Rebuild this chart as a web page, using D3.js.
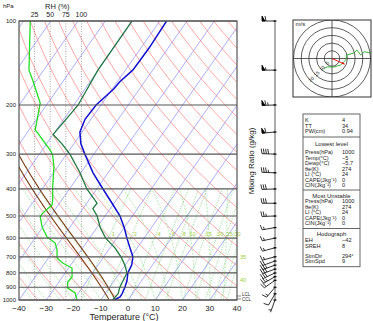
<!DOCTYPE html>
<html><head><meta charset="utf-8">
<script src="https://cdn.jsdelivr.net/npm/d3@7"></script>
<style>body{margin:0;background:#fff}svg{display:block}text{font-family:"Liberation Sans",Arial,sans-serif}</style>
</head><body><svg id="c" width="373" height="321"></svg>
<script>
// ---------------- data ----------------
const pressureTicks=[100,200,300,400,500,600,700,800,900,1000];
const tempTicks=[-40,-30,-20,-10,0,10,20,30,40];
const rhTicks=[25,50,75,100];
const mixTicks=[1,2,4,6,8,10,15,20,25,30,35,40];
const mixEdgeLabels=[35,40];
const mixEdgeLabelP=[700,850];
const tempP=[1000,975,950,900,850,800,750,700,650,600,550,500,450,400,350,300,275,250,225,200,175,165,150,125,100];
const tempT=[-5,-3.7,-3.8,-4.4,-5.4,-7.0,-7.6,-9.3,-12.7,-16.3,-20.0,-24.5,-30.7,-37.7,-45.5,-53.3,-57.5,-60.8,-62.2,-61.8,-59.4,-59.1,-57.3,-57,-57.5];
const dewP=[1000,950,900,850,800,750,700,650,600,550,500,470,450,400,350,300,275,255,214,200,150,100];
const dewT=[-5.7,-5.2,-6.3,-6.8,-7.3,-10.1,-13.7,-18.2,-24.1,-28.8,-32.9,-36.4,-36.2,-43.6,-50.3,-58.8,-64.5,-70,-68.8,-68.4,-70.1,-70.2];
const rhP=[1000,944,906,862,827,768,737,707,662,625,595,547,504,488,456,438,394,334,302,290,267,252,246,226,197,163,150,100];
const rhV=[93,90,78,78,85,85,70,61,61,58,45,37,34,38,53,54,54,56,54,50,38,30,26,29,34,22,16,18];
const parcelStartT=[-4.6,-6.9];
const windP=[100,150,200,250,300,350,400,450,500,550,600,650,700,725,750,775,800,825,850,900,950,1000];
const windSpd=[60,55,65,60,40,35,30,30,25,15,15,15,15,20,25,30,30,25,20,15,10,5];
const windDir=[270,270,268,265,272,272,268,270,268,260,258,255,255,250,250,250,245,240,235,220,210,200];
const hodoU=[-5.2,-3.2,1.3,5.6,8.9,9.7,14.3,16.2,18.6,20.8,25.1,30];
const hodoV=[-6.4,-5.5,-5.5,-4.2,-1,2.3,3.6,5.5,2.3,4.4,3.6,4];
const hodoRings=[5,10,15,20,25];
const hodoLabels=["5","10","15","20"];
const stormDir=294, stormSpd=9;
const tableTop=[["K","4"],["TT","34"],["PW(cm)","0.94"]];
const tableLowest=[["Press(hPa)","1000"],["Temp(°C)","−5"],["Dewp(°C)","−5.7"],["θe(K)","274"],["LI (°C)","24"],["CAPE(Jkg⁻¹)","0"],["CIN(Jkg⁻¹)","0"]];
const tableMU=[["Press(hPa)","1000"],["θe(K)","274"],["LI (°C)","24"],["CAPE(Jkg⁻¹)","0"],["CIN(Jkg⁻¹)","0"]];
const tableHodo=[["EH","−42"],["SREH","8"],["StmDir","294°"],["StmSpd","9"]];

// ---------------- scales ----------------
const svg=d3.select("#c");
const L=19,R=237,T0=21,B=300,K=0.70;
const x=d3.scaleLinear().domain([-40,40]).range([L,R]);
const y=d3.scaleLog().domain([100,1000]).range([T0,B]);
const X=(t,p)=>x(t)+(B-y(p))*K;
const rhX=d3.scaleLinear().domain([0,100]).range([L,81.4]);
const line=d3.line().x(d=>X(d[1],d[0])).y(d=>y(d[0]));

svg.append("defs").append("clipPath").attr("id","pc").append("rect").attr("x",L).attr("y",T0).attr("width",R-L).attr("height",B-T0);
const g=svg.append("g").attr("clip-path","url(#pc)");

// thermo helpers
const es=t=>6.112*Math.exp(17.67*t/(t+243.5));
function dTdp(p,Tk){const e=es(Tk-273.15),rs=0.622*e/(p-e);
 return (287.04*Tk+2.501e6*rs)/(p*(1005.7+2.501e6*2.501e6*rs*0.622/(287.04*Tk*Tk)));}
function moist(t0,pTop){let Tk=t0+273.15,p=1000;const pts=[[p,t0]];
 while(p>pTop){const dp=-2,k1=dTdp(p,Tk),k2=dTdp(p+dp/2,Tk+k1*dp/2);Tk+=k2*dp;p+=dp;pts.push([p,Tk-273.15]);}return pts;}
function tdFromW(w,p){const e=(w/1000)*p/(0.622+w/1000),l=Math.log(e/6.112);return 243.5*l/(17.67-l);}

// isotherms
d3.range(-150,50,10).forEach(t=>{
 g.append("line").attr("x1",X(t,1000)).attr("y1",y(1000)).attr("x2",X(t,100)).attr("y2",y(100))
  .attr("stroke","#6f6fff").attr("stroke-width",0.7).attr("opacity",0.8);});
// dry adiabats
d3.range(200,520,10).forEach(th=>{
 const pts=d3.range(1000,99,-10).map(p=>[p,th*Math.pow(p/1000,0.286)-273.15]);
 g.append("path").attr("d",line(pts)).attr("fill","none").attr("stroke","#ff6060").attr("stroke-width",0.7).attr("opacity",0.8);});
// moist adiabats
d3.range(-40,45,5).forEach(t=>{
 g.append("path").attr("d",line(moist(t,400))).attr("fill","none").attr("stroke","#88dd88").attr("stroke-width",0.7).attr("stroke-dasharray","2,1.5");});
// mixing ratio lines
mixTicks.forEach(w=>{
 const pts=d3.range(1000,399,-10).map(p=>[p,tdFromW(w,p)]);
 g.append("path").attr("d",line(pts)).attr("fill","none").attr("stroke","#55cc55").attr("stroke-width",0.7).attr("stroke-dasharray","1,1.5");});
// RH dotted
rhTicks.forEach(r=>{
 g.append("line").attr("x1",rhX(r)).attr("x2",rhX(r)).attr("y1",T0).attr("y2",B).attr("stroke","#777").attr("stroke-width",0.7).attr("stroke-dasharray","1,1.5");});
// pressure lines
pressureTicks.forEach(p=>{
 svg.append("line").attr("x1",L).attr("x2",R).attr("y1",y(p)).attr("y2",y(p)).attr("stroke","#555").attr("stroke-width",1.2);});
// mixing labels
const mixLab=svg.append("g").attr("font-size",5.5).attr("fill","#9acd32").attr("text-anchor","middle");
mixTicks.forEach(w=>{
 const j=mixEdgeLabels.indexOf(w);
 if(j<0){mixLab.append("text").attr("x",Math.min(X(tdFromW(w,580),580)+3,R+2)).attr("y",y(580)).attr("dy",".35em").text(w);}
 else{mixLab.append("text").attr("x",R+6).attr("y",y(mixEdgeLabelP[j])).attr("dy",".35em").text(w);}
});
// parcel paths
parcelStartT.forEach(t=>{
 g.append("path").attr("d",line(moist(t,100))).attr("fill","none").attr("stroke","#7a3a0e").attr("stroke-width",1.1);});
// RH profile
g.append("path").attr("d",d3.line().x((d,i)=>rhX(rhV[i])).y(d=>y(d))(rhP)).attr("fill","none").attr("stroke","#22dd22").attr("stroke-width",1.3);
// dewpoint
g.append("path").attr("d",line(dewP.map((p,i)=>[p,dewT[i]]))).attr("fill","none").attr("stroke","#1f7a40").attr("stroke-width",1.3);
// temperature
g.append("path").attr("d",line(tempP.map((p,i)=>[p,tempT[i]]))).attr("fill","none").attr("stroke","#1010d0").attr("stroke-width",1.5);
// border
svg.append("rect").attr("x",L).attr("y",T0).attr("width",R-L).attr("height",B-T0).attr("fill","none").attr("stroke","#555").attr("stroke-width",1.2);

// axes text
const ax=svg.append("g").attr("fill","#222");
pressureTicks.forEach(p=>ax.append("text").attr("x",16).attr("y",y(p)).attr("dy",".35em").attr("text-anchor","end").attr("font-size",6).text(p));
tempTicks.forEach(t=>ax.append("text").attr("x",x(t)).attr("y",308).attr("dy",".35em").attr("text-anchor","middle").attr("font-size",8).text(t<0?"−"+(-t):t));
ax.append("text").attr("x",124).attr("y",317).attr("dy",".35em").attr("text-anchor","middle").attr("font-size",9).text("Temperature (°C)");
ax.append("text").attr("x",3).attr("y",6).attr("dy",".35em").attr("font-size",6).text("hPa");
ax.append("text").attr("x",45).attr("y",6).attr("dy",".35em").attr("font-size",7.5).text("RH  (%)");
rhTicks.forEach(r=>ax.append("text").attr("x",rhX(r)).attr("y",15).attr("dy",".35em").attr("text-anchor","middle").attr("font-size",7).text(r));
ax.append("text").attr("transform","translate(251,161) rotate(-90)").attr("text-anchor","middle").attr("dy",".35em").attr("font-size",8).text("Mixing Ratio (g/kg)");
// LCL marks
svg.append("line").attr("x1",R).attr("x2",R+4).attr("y1",296).attr("y2",296).attr("stroke","#555").attr("stroke-width",0.7);
svg.append("line").attr("x1",R).attr("x2",R+4).attr("y1",299).attr("y2",299).attr("stroke","#555").attr("stroke-width",0.7);
ax.append("text").attr("x",R+5).attr("y",294.3).attr("dy",".35em").attr("font-size",4.5).text("LCL");
ax.append("text").attr("x",R+5).attr("y",299.8).attr("dy",".35em").attr("font-size",4.5).text("CCL");

// wind barbs
const SX=275;
svg.append("line").attr("x1",SX).attr("x2",SX).attr("y1",y(100)).attr("y2",y(1000)).attr("stroke","#999").attr("stroke-width",1.6);
const wb=svg.append("g").attr("stroke","#000").attr("stroke-width",0.8).attr("fill","#000");
windP.forEach((p,i)=>{
 const y0=y(p),rad=windDir[i]*Math.PI/180,ux=Math.sin(rad),uy=-Math.cos(rad),px=-uy,py=ux,Ls=13;
 wb.append("line").attr("x1",SX).attr("y1",y0).attr("x2",SX+ux*Ls).attr("y2",y0+uy*Ls);
 wb.append("line").attr("x1",SX-1.5).attr("x2",SX+1.5).attr("y1",y0).attr("y2",y0).attr("stroke-width",1.2);
 let s=Math.round(windSpd[i]/5)*5,pos=Ls;
 const P=d=>[SX+ux*d,y0+uy*d];
 while(s>=50){const a=P(pos),b=P(pos-3);
  wb.append("path").attr("d",`M${a}L${a[0]+px*5},${a[1]+py*5}L${b}Z`);pos-=4;s-=50;}
 while(s>=10){const a=P(pos);wb.append("line").attr("x1",a[0]).attr("y1",a[1]).attr("x2",a[0]+px*5+ux*1).attr("y2",a[1]+py*5+uy*1);pos-=2.2;s-=10;}
 if(s>=5){if(pos===Ls)pos-=2.2;const a=P(pos);wb.append("line").attr("x1",a[0]).attr("y1",a[1]).attr("x2",a[0]+px*2.8+ux*.5).attr("y2",a[1]+py*2.8+uy*.5);}
});

// hodograph
const HX=293,HY=20,HW=78,HH=77,cx=HX+HW/2,cy=HY+HH/2;
const hs=d3.scaleLinear().domain([0,25]).range([0,38.5]);
svg.append("defs").append("clipPath").attr("id","hc").append("rect").attr("x",HX).attr("y",HY).attr("width",HW).attr("height",HH);
const h=svg.append("g");
const hg=h.append("g").attr("clip-path","url(#hc)");
hodoRings.forEach(r=>hg.append("circle").attr("cx",cx).attr("cy",cy).attr("r",hs(r)).attr("fill","none").attr("stroke","#333").attr("stroke-width",0.8));
hg.append("line").attr("x1",HX).attr("x2",HX+HW).attr("y1",cy).attr("y2",cy).attr("stroke","#333").attr("stroke-width",0.8);
hg.append("line").attr("y1",HY).attr("y2",HY+HH).attr("x1",cx).attr("x2",cx).attr("stroke","#333").attr("stroke-width",0.8);
hg.append("path").attr("d",d3.line().x((d,i)=>cx+hs(hodoU[i])).y((d,i)=>cy-hs(hodoV[i]))(hodoU)).attr("fill","none").attr("stroke","#22aa22").attr("stroke-width",0.9);
const sr=(stormDir+180)*Math.PI/180,su=stormSpd*Math.sin(sr),sv=stormSpd*Math.cos(sr);
const ex=cx+hs(su),ey=cy-hs(sv);
hg.append("line").attr("x1",cx).attr("y1",cy).attr("x2",ex).attr("y2",ey).attr("stroke","#e00").attr("stroke-width",0.9);
const ang=Math.atan2(ey-cy,ex-cx);
hg.append("path").attr("d",`M${ex},${ey}L${ex-3*Math.cos(ang-0.4)},${ey-3*Math.sin(ang-0.4)}L${ex-3*Math.cos(ang+0.4)},${ey-3*Math.sin(ang+0.4)}Z`).attr("fill","#e00");
hodoLabels.forEach((t,i)=>{const r=hs(hodoRings[i]);
 hg.append("text").attr("transform",`translate(${cx-r*0.7071+1},${cy+r*0.7071-1}) rotate(-45)`).attr("text-anchor","middle").attr("dy",".35em").attr("font-size",5).attr("fill","#222").text(t);});
h.append("rect").attr("x",HX).attr("y",HY).attr("width",HW).attr("height",HH).attr("fill","none").attr("stroke","#333").attr("stroke-width",1);
h.append("text").attr("x",HX+2.5).attr("y",HY+4).attr("dy",".35em").attr("font-size",6).attr("fill","#222").text("m/s");

// table
const TX=303,TW=57,TT=114,TB=266.7,vx=342;
const tb=svg.append("g").attr("fill","#222").style("font-family","'DejaVu Sans',sans-serif");
tb.append("rect").attr("x",TX).attr("y",TT).attr("width",TW).attr("height",TB-TT).attr("fill","none").attr("stroke","#555").attr("stroke-width",0.9);
function rows(arr,ys){arr.forEach((r,i)=>{
 tb.append("text").attr("x",TX+2).attr("y",ys[i]).attr("dy",".35em").attr("font-size",5.6).text(r[0]);
 tb.append("text").attr("x",vx).attr("y",ys[i]).attr("dy",".35em").attr("font-size",5.6).text(r[1]);});}
function sep(yy){tb.append("line").attr("x1",TX).attr("x2",TX+TW).attr("y1",yy).attr("y2",yy).attr("stroke","#555").attr("stroke-width",0.9);}
function head(t,yy){tb.append("text").attr("x",TX+TW/2).attr("y",yy).attr("dy",".35em").attr("text-anchor","middle").attr("font-size",6).text(t);}
const rh=5.45;
rows(tableTop,[120,125.6,131.2]);sep(137);
head("Lowest level",144);rows(tableLowest,d3.range(7).map(i=>152.5+i*rh));sep(190);
head("Most Unstable",195.5);rows(tableMU,d3.range(5).map(i=>201.5+i*rh));sep(228.5);
head("Hodograph",233.5);rows(tableHodo,[240.5,246,256,261.5]);
</script></body></html>
